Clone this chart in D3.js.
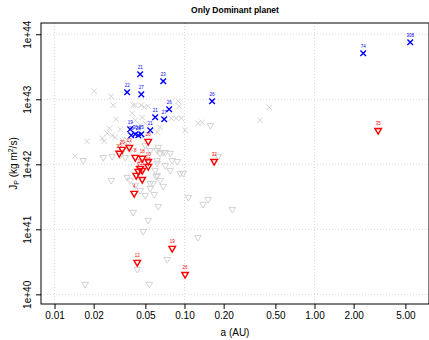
<!DOCTYPE html>
<html>
<head>
<meta charset="utf-8">
<script src="https://cdn.jsdelivr.net/npm/d3@7"></script>
<style>
  body { margin: 0; background: #fff; }
  svg { display: block; font-family: "Liberation Sans", Arial, sans-serif; }
</style>
</head>
<body>
<svg id="chart" width="429" height="340"></svg>
<script>
// data: a in AU, J in kg m^2/s

const grayCrossA = [0.0202, 0.0273, 0.0283, 0.0396, 0.0403, 0.0298, 0.0320, 0.0264, 0.0254, 0.0233,
  0.0241, 0.0178, 0.0278, 0.0293, 0.0418, 0.0465, 0.0490, 0.0526, 0.0895, 0.0910,
  0.0791, 0.0863, 0.0944, 0.101, 0.127, 0.0473, 0.0418, 0.0499, 0.0650, 0.0616,
  0.0456, 0.0441, 0.0481, 0.449, 0.382, 0.137, 0.0144, 0.0369, 0.0382, 0.0396,
  0.0350, 0.0309, 0.0362, 0.0332];
const grayCrossJ = [1.33e43, 1.11e43, 8.09e42, 6.09e42, 8.09e42, 4.92e42, 3.45e42, 3.58e42, 3.00e42, 2.51e42,
  2.26e42, 2.26e42, 2.79e42, 2.60e42, 8.09e42, 8.09e42, 7.53e42, 7.80e42, 9.31e42, 7.80e42,
  5.10e42, 5.10e42, 5.10e42, 3.33e42, 4.27e42, 5.28e42, 4.75e42, 4.27e42, 3.71e42, 3.11e42,
  3.98e42, 3.58e42, 2.60e42, 7.53e42, 4.75e42, 4.42e42, 1.33e42, 1.96e42, 1.76e42, 1.64e42,
  2.10e42, 1.89e42, 2.34e42, 2.34e42];

const grayTriA = [0.0166, 0.0237, 0.0278, 0.0350, 0.0616, 0.0650, 0.0711, 0.0776, 0.0879, 0.0616,
  0.0595, 0.0616, 0.0650, 0.0545, 0.0362, 0.0273, 0.0382, 0.0927, 0.0977, 0.0545,
  0.0628, 0.0526, 0.0403, 0.107, 0.139, 0.152, 0.233, 0.0585, 0.0481, 0.127,
  0.0736, 0.0433, 0.0536, 0.0172, 0.0456, 0.158, 0.182, 0.0628, 0.0686, 0.0605,
  0.0574, 0.0616, 0.0320, 0.0499, 0.0545, 0.0711, 0.0776, 0.0418, 0.0499, 0.0686,
  0.0804];
const grayTriJ = [1.15e42, 1.28e42, 1.33e42, 1.28e42, 1.64e42, 1.48e42, 1.53e42, 1.48e42, 1.11e42, 1.04e42,
  8.09e41, 6.78e41, 5.67e41, 5.10e41, 6.31e41, 5.67e41, 5.67e41, 7.27e41, 7.27e41, 4.27e41,
  2.26e41, 1.38e41, 1.83e41, 3.11e41, 2.43e41, 2.90e41, 2.03e41, 3.45e41, 9.31e40, 7.53e40,
  3.45e40, 2.43e40, 1.43e40, 1.43e40, 3.98e41, 3.98e42, 1.33e42, 1.83e42, 1.53e42, 6.53e41,
  5.10e41, 1.15e42, 1.38e42, 1.96e42, 1.64e42, 9.60e41, 8.09e41, 4.75e41, 3.33e41, 4.59e41,
  1.15e42];

const blueA = [0.0456, 0.0686, 0.0362, 0.0465, 0.0762, 0.0595, 0.0698, 0.0382, 0.0545, 0.0389,
  0.0418, 0.0441, 0.0465, 0.163, 2.37, 5.45];
const blueJ = [2.43e43, 1.89e43, 1.28e43, 1.19e43, 7.01e42, 5.28e42, 4.92e42, 3.45e42, 3.33e42, 2.79e42,
  2.90e42, 2.79e42, 2.90e42, 9.31e42, 5.10e43, 7.53e43];
const blueLab = ["21", "23", "22", "27", "26", "21", "27", "19", "21", "26",
  "30", "28", "25", "26", "74", "308"];

const redA = [0.0315, 0.0332, 0.0376, 0.0418, 0.0473, 0.0526, 0.0526, 0.0526, 0.0456, 0.0441,
  0.0425, 0.0473, 0.0473, 0.0410, 0.169, 3.09, 0.0804, 0.0433, 0.101];
const redJ = [1.48e42, 1.70e42, 1.83e42, 1.28e42, 1.24e42, 2.26e42, 1.11e42, 9.31e41, 8.67e41, 7.80e41,
  6.78e41, 8.09e41, 5.87e41, 3.58e41, 1.11e42, 3.33e42, 5.10e40, 3.11e40, 2.03e40];
const redLab = ["23", "20", "13", "8", "18", "26", "10", "16", "14", "9",
  "7", "11", "6", "4", "32", "35", "19", "12", "26"];

const xTicks = [0.01, 0.02, 0.05, 0.1, 0.2, 0.5, 1, 2, 5];
const xTickLabels = ["0.01", "0.02", "0.05", "0.10", "0.20", "0.50", "1.00", "2.00", "5.00"];
const yTicks = [1e40, 1e41, 1e42, 1e43, 1e44];
const yTickLabels = ["1e+40", "1e+41", "1e+42", "1e+43", "1e+44"];
const xGrid = [0.01, 0.1, 1];

const width = 429, height = 340;
const margin = { top: 23, right: 0, bottom: 36, left: 41 };
const plotW = width - margin.left - margin.right;
const plotH = height - margin.top - margin.bottom;

const svg = d3.select('#chart');

const x = d3.scaleLog().domain([0.00787, 7.6]).range([0, plotW]);
const y = d3.scaleLog().domain([7.1e39, 1.49e44]).range([plotH, 0]);

const g = svg.append('g')
  .attr('transform', 'translate(' + margin.left + ',' + margin.top + ')');

// grid
g.selectAll('.xgrid').data(xGrid).enter().append('line')
  .attr('x1', d => x(d)).attr('x2', d => x(d))
  .attr('y1', 0).attr('y2', plotH)
  .attr('stroke', '#d9d9d9').attr('stroke-width', 1).attr('stroke-dasharray', '1,2');
g.selectAll('.ygrid').data(yTicks).enter().append('line')
  .attr('x1', 0).attr('x2', plotW)
  .attr('y1', d => y(d)).attr('y2', d => y(d))
  .attr('stroke', '#d9d9d9').attr('stroke-width', 1).attr('stroke-dasharray', '1,2');

const crossPath = r => `M${-r},${-r}L${r},${r}M${-r},${r}L${r},${-r}`;
const triPath = 'M-3.3,-1.9L3.3,-1.9L0,3.8Z';

// background points
g.selectAll('.gx').data(grayCrossA).enter().append('path')
  .attr('d', crossPath(2.7))
  .attr('transform', (d, i) => `translate(${x(d)},${y(grayCrossJ[i])})`)
  .attr('fill', 'none').attr('stroke', '#d3d3d3').attr('stroke-width', 1);

g.selectAll('.gt').data(grayTriA).enter().append('path')
  .attr('d', triPath)
  .attr('transform', (d, i) => `translate(${x(d)},${y(grayTriJ[i])})`)
  .attr('fill', 'none').attr('stroke', '#d3d3d3').attr('stroke-width', 1);

// dominant planets
g.selectAll('.rt').data(redA).enter().append('path')
  .attr('d', triPath)
  .attr('transform', (d, i) => `translate(${x(d)},${y(redJ[i])})`)
  .attr('fill', 'none').attr('stroke', '#ff0000').attr('stroke-width', 1.4);
g.selectAll('.rl').data(redA).enter().append('text')
  .attr('x', d => x(d))
  .attr('y', (d, i) => y(redJ[i]) - 5)
  .attr('text-anchor', 'middle')
  .attr('font-size', 4.5)
  .attr('fill', '#ff0000')
  .text((d, i) => redLab[i]);

g.selectAll('.bx').data(blueA).enter().append('path')
  .attr('d', crossPath(2.8))
  .attr('transform', (d, i) => `translate(${x(d)},${y(blueJ[i])})`)
  .attr('fill', 'none').attr('stroke', '#0000ff').attr('stroke-width', 1.4);
g.selectAll('.bl').data(blueA).enter().append('text')
  .attr('x', d => x(d))
  .attr('y', (d, i) => y(blueJ[i]) - 5)
  .attr('text-anchor', 'middle')
  .attr('font-size', 4.5)
  .attr('fill', '#0000ff')
  .text((d, i) => blueLab[i]);

// axes
const xAxis = d3.axisBottom(x).tickValues(xTicks)
  .tickFormat((d, i) => xTickLabels[i]).tickSize(5).tickSizeOuter(0);
const gx = g.append('g').attr('transform', 'translate(0,' + plotH + ')').call(xAxis);
gx.select('.domain').remove();
gx.selectAll('line').attr('stroke', '#000');
gx.selectAll('text').attr('font-size', 10).attr('fill', '#000').attr('dy', '0.95em').attr('y', 5);

const yAxis = d3.axisLeft(y).tickValues(yTicks)
  .tickFormat((d, i) => yTickLabels[i]).tickSize(5).tickSizeOuter(0);
const gy = g.append('g').call(yAxis);
gy.select('.domain').remove();
gy.selectAll('line').attr('stroke', '#000');
gy.selectAll('text')
  .attr('font-size', 10).attr('fill', '#000')
  .attr('x', null).attr('dy', null)
  .attr('text-anchor', 'middle')
  .attr('transform', 'translate(-10,0) rotate(-90)');

// box
g.append('rect')
  .attr('width', plotW).attr('height', plotH)
  .attr('fill', 'none').attr('stroke', '#000').attr('stroke-width', 1);

// labels
svg.append('text')
  .attr('x', margin.left + plotW / 2).attr('y', 13)
  .attr('text-anchor', 'middle')
  .attr('font-size', 8.5).attr('font-weight', 'bold')
  .text('Only Dominant planet');

svg.append('text')
  .attr('x', margin.left + plotW / 2).attr('y', 336)
  .attr('text-anchor', 'middle')
  .attr('font-size', 10)
  .text('a (AU)');

const yl = svg.append('text')
  .attr('transform', `translate(17,${margin.top + plotH / 2}) rotate(-90)`)
  .attr('text-anchor', 'middle')
  .attr('font-size', 10);
yl.append('tspan').text('J');
yl.append('tspan').attr('font-size', 7).attr('dy', 2).text('P');
yl.append('tspan').attr('dy', -2).text(' (kg m');
yl.append('tspan').attr('font-size', 7).attr('dy', -4).text('2');
yl.append('tspan').attr('dy', 4).text('/s)');
</script>
</body>
</html>
